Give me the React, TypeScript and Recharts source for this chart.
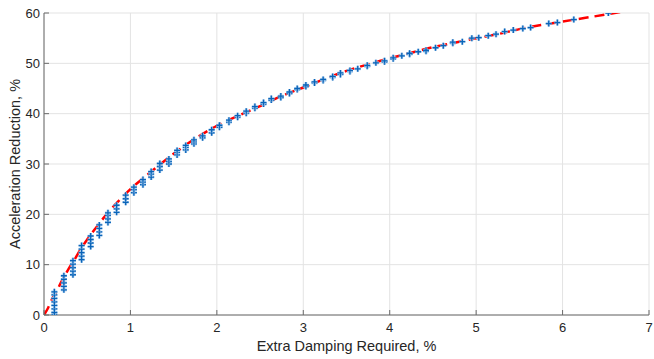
import { ComposedChart, Scatter, Line, XAxis, YAxis, CartesianGrid } from "recharts";

const xTicks = [0, 1, 2, 3, 4, 5, 6, 7];
const yTicks = [0, 10, 20, 30, 40, 50, 60];

// measured points, grouped by damping column
const colDamping = [
  0.12, 0.23, 0.335, 0.435, 0.54, 0.64, 0.74, 0.84, 0.945, 1.04,
  1.145, 1.24, 1.34, 1.445, 1.54, 1.64, 1.735, 1.835, 1.94, 2.03,
  2.14, 2.24, 2.34, 2.44, 2.54, 2.63, 2.74, 2.84, 2.93, 3.03,
  3.13, 3.23, 3.34, 3.43, 3.54, 3.63, 3.74, 3.84, 3.94, 4.04,
  4.14, 4.23, 4.33, 4.42, 4.53, 4.62, 4.73, 4.84, 4.95, 5.03,
  5.14, 5.23, 5.33, 5.43, 5.54, 5.63, 5.84, 5.94, 6.13, 6.53,
];
const colReduction = [
  [0, 0.5, 1.2, 1.9, 2.6, 3.3, 4.0, 4.6], [5.0, 5.7, 6.4, 7.1, 7.8], [8.0, 8.7, 9.4, 10.1, 10.8],
  [11.0, 11.7, 12.4, 13.1, 13.8], [13.6, 14.3, 15.0, 15.7], [15.8, 16.5, 17.2, 17.9],
  [18.4, 19.1, 19.8, 20.3], [20.4, 21.1, 21.8], [22.4, 23.1, 23.8], [24.3, 24.9, 25.4],
  [25.9, 26.4, 26.9], [27.4, 28.0, 28.5], [28.8, 29.5, 30.1], [30.0, 30.5, 31.0],
  [31.8, 32.3, 32.7], [32.8, 33.3, 33.7], [34.0, 34.4, 34.8], [35.2, 35.6], [36.2, 36.8],
  [37.3, 37.7], [38.3, 38.7], [39.3, 39.6], [40.1, 40.5], [41.1, 41.4], [41.9, 42.2],
  [42.7, 43.0], [43.2, 43.5], [44.0, 44.3], [44.8, 45.0], [45.4, 45.7], [46.1, 46.3],
  [46.6, 46.8], [47.2, 47.4], [47.8, 48.1], [48.4, 48.6], [48.9], [49.4, 49.6], [50.1],
  [50.3, 50.5], [50.9, 51.1], [51.5], [51.8, 52.0], [52.3], [52.4, 52.6], [53.1], [53.5],
  [54.0, 54.2], [54.3], [55.0], [55.1], [55.5], [55.8], [56.3], [56.6], [56.9], [57.1],
  [57.9], [58.1], [58.7], [60.0],
];

// fitted curve (red dashed)
const fitDamping = [
  0, 0.05, 0.1, 0.15, 0.2, 0.25, 0.3, 0.35, 0.4, 0.5, 0.6, 0.7, 0.8, 0.9, 1.0,
  1.2, 1.4, 1.6, 1.8, 2.0, 2.25, 2.5, 2.75, 3.0, 3.25, 3.5, 3.75, 4.0, 4.25,
  4.5, 4.75, 5.0, 5.25, 5.5, 5.75, 6.0, 6.25, 6.5, 6.7,
];
const fitReduction = [
  0, 1.5, 3.4, 4.8, 6.6, 8.1, 9.6, 10.9, 12.4, 15.0, 17.3, 19.5, 21.5, 23.3, 25.0,
  27.9, 30.7, 33.3, 35.6, 37.6, 39.6, 41.5, 43.5, 45.2, 46.9, 48.5, 49.8, 51.0, 52.1,
  53.2, 54.1, 55.0, 55.8, 56.8, 57.6, 58.3, 59.0, 59.7, 60.3,
];

const measured = colDamping.flatMap((x, i) => colReduction[i].map((y) => ({ x, y })));
const fit = fitDamping.map((x, i) => ({ x, y: fitReduction[i] }));

const font = "'Liberation Sans', Arial, sans-serif";
const textColor = "#262626";
const axisColor = "#6b6b6b";
const gridColor = "#e3e3e3";

const BottomTick = (props: any) => {
  const { x, y, payload } = props;
  return (
    <g>
      <line x1={x} y1={y} x2={x} y2={y - 5} stroke={axisColor} />
      <text x={x} y={y + 17} textAnchor="middle" fill={textColor} fontSize={13} fontFamily={font}>
        {payload.value}
      </text>
    </g>
  );
};

const LeftTick = (props: any) => {
  const { x, y, payload } = props;
  return (
    <g>
      <line x1={x} y1={y} x2={x + 5} y2={y} stroke={axisColor} />
      <text x={x - 4} y={y + 4.6} textAnchor="end" fill={textColor} fontSize={13} fontFamily={font}>
        {payload.value}
      </text>
    </g>
  );
};

const TopTick = (props: any) => (
  <line x1={props.x} y1={props.y} x2={props.x} y2={props.y + 5} stroke={axisColor} />
);

const RightTick = (props: any) => (
  <line x1={props.x} y1={props.y} x2={props.x - 5} y2={props.y} stroke={axisColor} />
);

const Plus = (props: any) => {
  const { cx, cy } = props;
  const d = `M${cx - 3},${cy}h6M${cx},${cy - 3}v6`;
  return (
    <g>
      <path d={d} stroke="#a6cbee" strokeWidth={2.6} />
      <path d={d} stroke="#0a64b8" strokeWidth={1.3} />
    </g>
  );
};

export default function App() {
  return (
    <div style={{ position: "absolute", left: 0, top: 0, background: "#fff" }}>
      <ComposedChart width={654} height={359} margin={{ top: 13, right: 5, bottom: 0, left: 0 }}>
        <CartesianGrid stroke={gridColor} horizontalValues={yTicks} verticalValues={xTicks} />
        <XAxis
          type="number"
          dataKey="x"
          domain={[0, 7]}
          ticks={xTicks}
          allowDataOverflow
          height={44}
          tickSize={0}
          tickMargin={0}
          tickLine={false}
          tick={<BottomTick />}
          axisLine={{ stroke: axisColor }}
          label={{
            value: "Extra Damping Required, %",
            position: "insideBottom",
            offset: 8,
            fill: textColor,
            fontSize: 14.5,
            fontFamily: font,
          }}
        />
        <XAxis
          xAxisId="top"
          orientation="top"
          type="number"
          domain={[0, 7]}
          ticks={xTicks}
          allowDataOverflow
          height={0}
          tickSize={0}
          tickMargin={0}
          tickLine={false}
          tick={<TopTick />}
          axisLine={{ stroke: axisColor }}
        />
        <YAxis
          type="number"
          domain={[0, 60]}
          ticks={yTicks}
          allowDataOverflow
          width={44}
          tickSize={0}
          tickMargin={0}
          tickLine={false}
          tick={<LeftTick />}
          axisLine={{ stroke: axisColor }}
          label={{
            value: "Acceleration Reduction, %",
            angle: -90,
            position: "insideLeft",
            offset: 15,
            fill: textColor,
            fontSize: 14.5,
            fontFamily: font,
            style: { textAnchor: "middle" },
          }}
        />
        <YAxis
          yAxisId="right"
          orientation="right"
          type="number"
          domain={[0, 60]}
          ticks={yTicks}
          allowDataOverflow
          width={0}
          tickSize={0}
          tickMargin={0}
          tickLine={false}
          tick={<RightTick />}
          axisLine={{ stroke: axisColor }}
        />
        <Scatter data={measured} dataKey="y" shape={<Plus />} isAnimationActive={false} />
        <Line
          data={fit}
          dataKey="y"
          type="monotone"
          dot={false}
          activeDot={false}
          stroke="#ff0000"
          strokeWidth={2.5}
          strokeDasharray="10 6"
          isAnimationActive={false}
        />
      </ComposedChart>
    </div>
  );
}
